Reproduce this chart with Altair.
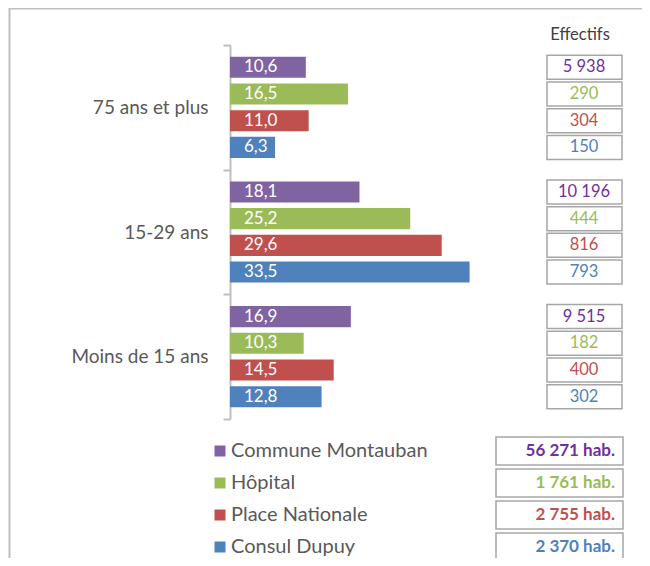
import altair as alt
import pandas as pd

groups = ["75 ans et plus", "15-29 ans", "Moins de 15 ans"]
series = ["Commune Montauban", "Hôpital", "Place Nationale", "Consul Dupuy"]
bar_colors = ["#8064A2", "#9BBB59", "#C0504D", "#4F81BD"]
text_colors = ["#7030A0", "#9BBB59", "#C0504D", "#4F81BD"]

# percentages per series, in group order
pct = {
    "Commune Montauban": [10.6, 18.1, 16.9],
    "Hôpital": [16.5, 25.2, 10.3],
    "Place Nationale": [11.0, 29.6, 14.5],
    "Consul Dupuy": [6.3, 33.5, 12.8],
}
# effectifs per series, in group order
effectifs = {
    "Commune Montauban": [5938, 10196, 9515],
    "Hôpital": [290, 444, 182],
    "Place Nationale": [304, 816, 400],
    "Consul Dupuy": [150, 793, 302],
}
totals = [56271, 1761, 2755, 2370]


def fr_int(n):
    return f"{n:,}".replace(",", " ")


rows = []
for si, s in enumerate(series):
    for gi, g in enumerate(groups):
        v = pct[s][gi]
        rows.append({
            "Group": g, "Series": s, "Value": v,
            "Label": f"{v:.1f}".replace(".", ","),
            "Eff": fr_int(effectifs[s][gi]),
            "TxtColor": text_colors[si],
        })
df = pd.DataFrame(rows)

df_tot = pd.DataFrame({
    "Series": series,
    "Total": [fr_int(t) + " hab." for t in totals],
    "TxtColor": text_colors,
})

FONT = "Lato"
GRAY = "#bfbfbf"

yaxis = alt.Axis(title=None, tickBand="extent", labelFontSize=19, labelColor="#595959",
                 labelFont=FONT, tickSize=7, tickColor=GRAY, domainColor=GRAY,
                 domainWidth=2, tickWidth=2, labelPadding=15, grid=False)
Y = alt.Y("Group:N", sort=groups, axis=yaxis,
          scale=alt.Scale(paddingInner=0, paddingOuter=0))
YO = alt.YOffset("Series:N", sort=series,
                 scale=alt.Scale(paddingInner=0.21, paddingOuter=0.44))
color = alt.Color("Series:N", scale=alt.Scale(domain=series, range=bar_colors), legend=None)

base = alt.Chart(df)

bars = base.mark_bar(cornerRadius=0).encode(
    x=alt.X("Value:Q", scale=alt.Scale(domain=[0, 57.6], nice=False), axis=None),
    y=Y, yOffset=YO, color=color,
)
bar_labels = base.mark_text(align="left", baseline="middle", dx=14, fontSize=17,
                            font=FONT, color="white").encode(
    x=alt.datum(0), y=Y, yOffset=YO, text="Label:N",
)
eff_boxes = base.mark_rect(height=24, fill="white", stroke="#a6a6a6", strokeWidth=1.5).encode(
    x=alt.value(317), x2=alt.value(392), y=Y, yOffset=YO,
)
eff_text = base.mark_text(align="center", baseline="middle", fontSize=16.5, font=FONT).encode(
    x=alt.value(354), y=Y, yOffset=YO, text="Eff:N",
    color=alt.Color("TxtColor:N", scale=None),
)
header = alt.Chart(pd.DataFrame({"t": ["Effectifs"]})).mark_text(
    align="center", baseline="middle", fontSize=16.5, font=FONT, color="#404040").encode(
    x=alt.value(350), y=alt.value(-10), text="t:N",
)
frame_top = alt.Chart(pd.DataFrame({"a": [0]})).mark_rule(color=GRAY, strokeWidth=2).encode(
    x=alt.value(-221), x2=alt.value(420), y=alt.value(-36.5),
)
frame_left = alt.Chart(pd.DataFrame({"a": [0]})).mark_rule(color=GRAY, strokeWidth=2).encode(
    x=alt.value(-220.5), y=alt.value(-37), y2=alt.value(530),
)

top = alt.layer(bars, bar_labels, eff_boxes, eff_text)

YB = alt.Y("Series:N", sort=series, axis=None,
           scale=alt.Scale(range=[390, 518], paddingInner=0, paddingOuter=0))
bbase = alt.Chart(df_tot)
squares = bbase.mark_square(size=121, opacity=1).encode(
    x=alt.value(-10), y=YB, color=color,
)
leg_labels = bbase.mark_text(align="left", baseline="middle", fontSize=20, font=FONT,
                             color="#595959").encode(
    x=alt.value(1), y=YB, text="Series:N",
)
tot_boxes = bbase.mark_rect(height=28, fill="white", stroke="#a6a6a6", strokeWidth=1.5).encode(
    x=alt.value(266), x2=alt.value(393), y=YB,
)
tot_text = bbase.mark_text(align="right", baseline="middle", fontSize=17, font=FONT,
                           fontWeight="bold").encode(
    x=alt.value(385), y=YB, text="Total:N",
    color=alt.Color("TxtColor:N", scale=None),
)
bottom = alt.layer(squares, leg_labels, tot_boxes, tot_text)

chart = alt.layer(frame_top, frame_left, header, top, bottom).resolve_scale(
    y="independent"
).properties(
    width=412, height=374,
    padding={"left": 222, "top": 37, "right": 0, "bottom": 139},
    autosize=alt.AutoSizeParams(type="none"),
).configure_view(stroke=None)

chart.save("out.html", embed_options={"renderer": "svg", "actions": False})
